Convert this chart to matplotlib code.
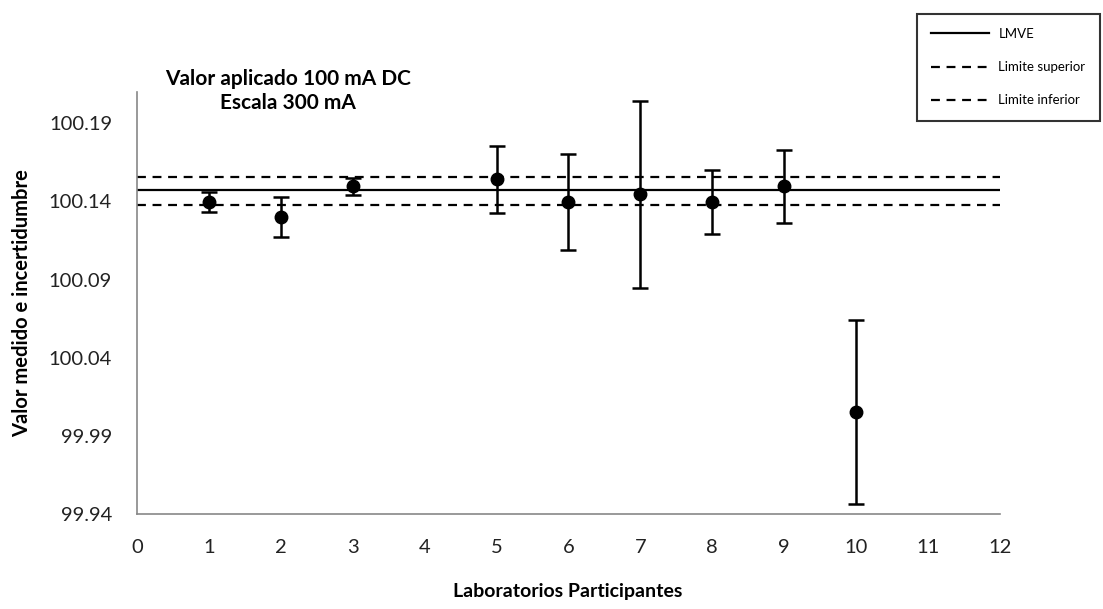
import matplotlib
matplotlib.use("Agg")
import matplotlib.pyplot as plt
from matplotlib.lines import Line2D

labs = [1, 2, 3, 5, 6, 7, 8, 9, 10]
values = [100.1396, 100.1300, 100.1496, 100.1540, 100.1396, 100.1445, 100.1396, 100.1496, 100.0054]
uncert = [0.0064, 0.0130, 0.0056, 0.0215, 0.0305, 0.0600, 0.0203, 0.0234, 0.0590]
lmve = 100.147
lim_sup = 100.1555
lim_inf = 100.138
yticks = [99.94, 99.99, 100.04, 100.09, 100.14, 100.19]
xticks = list(range(0, 13))

plt.rcParams['font.family'] = ['Lato', 'DejaVu Sans']

fig = plt.figure(figsize=(11.03, 6.09), dpi=100)
ax = fig.add_axes([0.1242, 0.156, 0.7824, 0.693])

ax.axhline(lmve, color='black', lw=1.6, zorder=2)
ax.axhline(lim_sup, color='black', lw=1.6, ls=(0, (4, 3)), zorder=2)
ax.axhline(lim_inf, color='black', lw=1.6, ls=(0, (4, 3)), zorder=2)

ax.errorbar(labs, values, yerr=uncert, fmt='o', color='black', ms=9,
            elinewidth=1.8, capsize=6, capthick=1.8, zorder=3)

ax.set_xlim(0, 12)
ax.set_ylim(99.94, 100.21)
ax.set_xticks(xticks)
ax.set_yticks(yticks)
ax.set_yticklabels([f"{v:.2f}" for v in yticks])
ax.tick_params(axis='both', length=0, labelsize=14.5, colors='#222222')
ax.tick_params(axis='x', pad=18)
ax.tick_params(axis='y', pad=18)

for s in ['top', 'right']:
    ax.spines[s].set_visible(False)
for s in ['left', 'bottom']:
    ax.spines[s].set_color('#888888')
    ax.spines[s].set_linewidth(1.2)

fig.text(568 / 1103, 1 - 592 / 609, 'Laboratorios Participantes', ha='center', va='center',
         fontsize=14, fontweight='bold')
ax.set_ylabel('Valor medido e incertidumbre', fontsize=14.5, fontweight='bold', labelpad=12)

fig.text(288 / 1103, 1 - 79 / 609, 'Valor aplicado 100 mA DC', ha='center', va='center',
         fontsize=15, fontweight='bold')
fig.text(288 / 1103, 1 - 103 / 609, 'Escala 300 mA', ha='center', va='center',
         fontsize=15, fontweight='bold')

handles = [Line2D([], [], color='black', lw=1.6),
           Line2D([], [], color='black', lw=1.6, ls=(0, (4, 3))),
           Line2D([], [], color='black', lw=1.6, ls=(0, (4, 3)))]
leg = fig.legend(handles, ['LMVE', 'Limite superior', 'Limite inferior'],
                 loc='upper left', bbox_to_anchor=(910 / 1103, 1 - 7 / 609),
                 fontsize=9.5, frameon=True, fancybox=False, edgecolor='black',
                 handlelength=4.4, labelspacing=1.6, borderpad=1.1, handletextpad=0.7)
leg.get_frame().set_linewidth(1.5)

fig.savefig('out.png', dpi=100)
